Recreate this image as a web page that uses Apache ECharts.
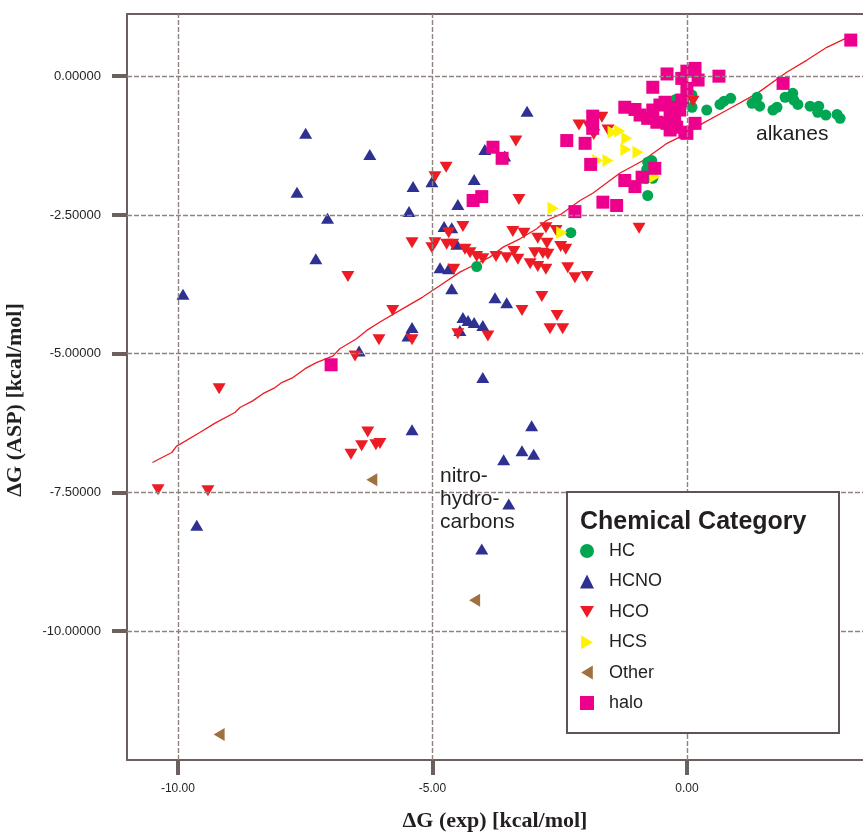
<!DOCTYPE html>
<html>
<head>
<meta charset="utf-8">
<script src="https://cdn.jsdelivr.net/npm/echarts@6/dist/echarts.min.js"></script>
<style>html,body{margin:0;padding:0;background:#fff}#c{width:863px;height:832px}</style>
</head>
<body>
<div id="c"></div>
<script>
// ---- data (ΔG exp, ΔG ASP) ----
const categories = ['HC', 'HCNO', 'HCO', 'HCS', 'Other', 'halo'];
const xTicks = [-10, -5, 0];
const yTicks = [0, -2.5, -5, -7.5, -10];

const hcData = [
  [-0.22,-0.42],[-0.06,-0.47],[0.10,-0.34],[0.10,-0.56],[0.39,-0.61],[0.65,-0.51],[0.73,-0.45],[0.86,-0.40],
  [1.28,-0.49],[1.38,-0.38],[1.43,-0.54],[1.69,-0.61],[1.77,-0.56],[1.93,-0.38],[2.08,-0.31],[2.10,-0.43],
  [2.18,-0.51],[2.42,-0.54],[2.59,-0.54],[2.57,-0.65],[2.73,-0.70],[2.95,-0.69],[3.01,-0.76],
  [-0.77,-1.55],[-0.69,-1.52],[-0.79,-1.68],[-0.73,-1.82],[-0.81,-1.84],[-0.67,-1.84],[-0.77,-2.15],
  [-2.28,-2.82],[-4.13,-3.43]
];
const hcnoData = [
  [-7.49,-1.03],[-6.23,-1.41],[-7.66,-2.09],[-7.06,-2.56],[-5.38,-1.99],[-5.46,-2.44],[-5.01,-1.90],
  [-3.14,-0.63],[-3.97,-1.32],[-3.58,-1.44],[-4.18,-1.86],[-4.50,-2.31],[-4.77,-2.71],[-4.62,-2.73],
  [-4.85,-3.45],[-4.68,-3.47],[-4.52,-3.03],[-4.62,-3.83],[-3.77,-3.99],[-3.54,-4.08],[-4.40,-4.35],
  [-4.30,-4.40],[-4.18,-4.44],[-4.01,-4.49],[-4.46,-4.58],[-5.40,-4.53],[-5.48,-4.68],[-6.44,-4.95],
  [-9.90,-3.93],[-7.29,-3.29],[-4.01,-5.43],[-5.40,-6.37],[-3.05,-6.30],[-3.24,-6.75],[-3.01,-6.81],
  [-3.60,-6.91],[-3.50,-7.71],[-9.63,-8.09],[-4.03,-8.52]
];
const hcoData = [
  [-10.39,-7.45],[-9.41,-7.47],[-9.19,-5.63],[-6.60,-6.81],[-6.39,-6.66],[-6.27,-6.41],[-6.11,-6.64],
  [-6.03,-6.62],[-6.66,-3.61],[-5.78,-4.22],[-6.05,-4.75],[-6.52,-5.04],[-5.40,-4.75],[-4.50,-4.64],
  [-3.91,-4.68],[-3.24,-4.22],[-2.85,-3.97],[-2.55,-4.31],[-2.69,-4.55],[-2.44,-4.55],[-5.40,-3.00],
  [-5.01,-3.09],[-4.95,-3.00],[-4.72,-3.03],[-4.60,-3.03],[-4.68,-2.82],[-4.40,-2.71],[-4.36,-3.12],
  [-4.26,-3.18],[-4.13,-3.25],[-4.01,-3.29],[-4.58,-3.48],[-3.75,-3.25],[-3.54,-3.27],[-3.40,-3.16],
  [-3.32,-3.30],[-3.42,-2.80],[-3.20,-2.83],[-3.08,-3.38],[-2.93,-3.43],[-2.77,-3.48],[-2.99,-3.18],
  [-2.83,-3.19],[-2.73,-3.21],[-2.93,-2.92],[-2.75,-3.01],[-2.77,-2.73],[-2.57,-2.78],[-2.48,-3.07],
  [-2.38,-3.12],[-2.34,-3.45],[-2.20,-3.63],[-1.96,-3.61],[-0.94,-2.74],[-3.36,-1.17],[-3.30,-2.22],
  [-4.95,-1.81],[-4.73,-1.64],[-2.12,-0.88],[-1.93,-0.90],[-1.67,-0.74],[-1.83,-1.05],[-1.55,-0.97],
  [0.12,-0.45]
];
const hcsData = [
  [-1.45,-1.01],[-1.32,-0.99],[-1.18,-1.12],[-1.20,-1.32],[-0.96,-1.37],[-1.75,-1.52],[-1.55,-1.52],
  [-0.63,-1.81],[-2.63,-2.38],[-2.46,-2.82]
];
const otherData = [[-6.19,-7.27],[-4.17,-9.44],[-9.19,-11.86]];
const haloData = [
  [-6.99,-5.20],[-4.20,-2.24],[-4.03,-2.17],[-3.81,-1.28],[-3.63,-1.48],[-2.36,-1.16],[-2.20,-2.44],
  [-2.00,-1.21],[-1.89,-1.59],[-1.85,-0.72],[-1.85,-0.94],[-1.65,-2.27],[-1.38,-2.33],[-1.22,-1.88],
  [-1.02,-1.99],[-0.88,-1.82],[-0.63,-1.66],[-1.22,-0.56],[-1.02,-0.60],[-0.92,-0.70],[-0.77,-0.76],
  [-0.67,-0.61],[-0.53,-0.52],[-0.43,-0.47],[-0.33,-0.67],[-0.59,-0.83],[-0.39,-0.85],[-0.24,-0.79],
  [-0.33,-0.97],[-0.20,-0.92],[-0.14,-0.61],[-0.04,-1.01],[0.00,-1.03],[0.16,-0.85],[-0.10,-0.43],
  [-0.20,-0.56],[-0.67,-0.20],[-0.39,0.04],[-0.10,-0.04],[0.00,0.09],[0.16,0.14],[0.22,-0.07],
  [0.63,0.00],[0.00,-0.22],[1.89,-0.13],[3.22,0.65]
];
const fitLine = [
  [-10.50,-6.96],[-10.12,-6.78],[-10.03,-6.67],[-9.57,-6.42],[-9.27,-6.25],[-8.88,-6.06],[-8.78,-5.97],
  [-8.53,-5.85],[-8.33,-5.72],[-8.09,-5.61],[-7.96,-5.52],[-7.74,-5.43],[-7.50,-5.27],[-7.28,-5.16],
  [-6.95,-5.04],[-6.82,-4.91],[-6.49,-4.73],[-6.29,-4.58],[-6.03,-4.43],[-5.64,-4.22],[-5.19,-3.98],
  [-4.85,-3.77],[-4.46,-3.53],[-4.13,-3.38],[-3.87,-3.26],[-3.61,-3.08],[-3.28,-2.93],[-2.95,-2.75],
  [-2.76,-2.60],[-2.46,-2.48],[-2.10,-2.24],[-1.85,-2.11],[-1.32,-1.75],[-0.86,-1.52],[-0.39,-1.21],
  [0.00,-1.03],[0.31,-0.85],[0.79,-0.61],[1.38,-0.31],[1.96,0.07],[2.36,0.29],[2.75,0.52],[3.14,0.69]
];

const C = {HC:'#00a651', HCNO:'#2e3192', HCO:'#ed1c24', HCS:'#fff200', Other:'#a0703f', halo:'#ec008c'};
const SYM = {
  HC:'circle',
  HCNO:'triangle',
  HCO:'path://M0,0 L12,0 L6,10 Z',
  HCS:'path://M0,0 L10,6 L0,12 Z',
  Other:'path://M10,0 L0,6 L10,12 Z',
  halo:'rect'
};
const SIZE = {HC:11, HCNO:[13,11], HCO:[13,11], HCS:[11,13], Other:[11,13], halo:13};
const DATA = {HC:hcData, HCNO:hcnoData, HCO:hcoData, HCS:hcsData, Other:otherData, halo:haloData};

const gridColor = '#8f8380';
const axisColor = '#6b605d';
const labelFont = 'Arial, "Liberation Sans", sans-serif';
const serifBold = 'bold 22px "Liberation Serif", "Times New Roman", serif';

const chart = echarts.init(document.getElementById('c'));
const series = [
  {
    type:'line', name:'grid', data:[], silent:true, z:1,
    markLine:{
      silent:true, symbol:['none','none'], label:{show:false},
      lineStyle:{color:gridColor, type:[5,2], width:1.4},
      data: xTicks.map(v=>({xAxis:v})).concat(yTicks.map(v=>({yAxis:v})))
    }
  },
  {
    type:'line', name:'fit', data:fitLine, symbol:'none', smooth:false, z:3,
    lineStyle:{color:'#ed1c24', width:1.3}, silent:true
  }
];
categories.forEach(cat => {
  series.push({
    type:'scatter', name:cat, data:DATA[cat], symbol:SYM[cat], symbolSize:SIZE[cat],
    itemStyle:{color:C[cat], opacity:1}, z:4
  });
});

chart.setOption({
  animation:false,
  backgroundColor:'#fff',
  grid:{left:127, right:0, top:14, bottom:72, containLabel:false, outerBoundsMode:'none'},
  xAxis:[{
    type:'value', min:-11, max:3.46,
    axisLine:{show:true, onZero:false, lineStyle:{color:axisColor, width:2}},
    axisTick:{show:true, customValues:xTicks, length:15, lineStyle:{color:axisColor, width:4}},
    axisLabel:{customValues:xTicks, formatter:v=>v.toFixed(2), color:'#231f20', fontSize:12, fontFamily:labelFont, margin:23},
    splitLine:{show:false},
    name:'ΔG (exp) [kcal/mol]', nameLocation:'middle', nameGap:50,
    nameTextStyle:{fontFamily:'"Liberation Serif", "Times New Roman", serif', fontWeight:'bold', fontSize:22, color:'#231f20'}
  },{
    type:'value', position:'top', min:-11, max:3.46,
    axisLine:{show:true, onZero:false, lineStyle:{color:axisColor, width:2}},
    axisTick:{show:false}, axisLabel:{show:false}, splitLine:{show:false}
  }],
  yAxis:{
    type:'value', min:-12.32, max:1.12,
    axisLine:{show:true, onZero:false, lineStyle:{color:axisColor, width:2}},
    axisTick:{show:true, customValues:yTicks, length:15, lineStyle:{color:axisColor, width:4}},
    axisLabel:{customValues:yTicks, formatter:v=>v.toFixed(5), color:'#231f20', fontSize:13, fontFamily:labelFont, margin:26},
    splitLine:{show:false}
  },
  legend:{
    data:categories.map(c=>({name:c, icon:SYM[c]})),
    orient:'vertical', left:575, top:537, padding:5, itemWidth:14, itemHeight:14, itemGap:12.4,
    textStyle:{fontSize:18, fontFamily:labelFont, color:'#231f20', padding:[0,0,0,10]},
    z:120, selectedMode:false
  },
  graphic:[
    {type:'rect', shape:{x:567, y:492, width:272, height:241}, style:{fill:'#fff', stroke:'#5e5452', lineWidth:2}, z:100},
    {type:'text', x:580, y:522, style:{text:'Chemical Category', font:'bold 25px Arial, "Liberation Sans", sans-serif', fill:'#231f20', textVerticalAlign:'middle'}, z:101},
    {type:'text', x:756, y:134, style:{text:'alkanes', font:'21px Arial, "Liberation Sans", sans-serif', fill:'#231f20', textVerticalAlign:'middle'}, z:101},
    {type:'text', x:440, y:465, style:{text:'nitro-\nhydro-\ncarbons', font:'21px Arial, "Liberation Sans", sans-serif', fill:'#231f20', lineHeight:23}, z:101},
    {type:'text', x:15, y:400, rotation:Math.PI/2, style:{text:'ΔG (ASP) [kcal/mol]', font:serifBold, fill:'#231f20', textAlign:'center', textVerticalAlign:'middle'}, z:101}
  ],
  series:series
});
</script>
</body>
</html>
